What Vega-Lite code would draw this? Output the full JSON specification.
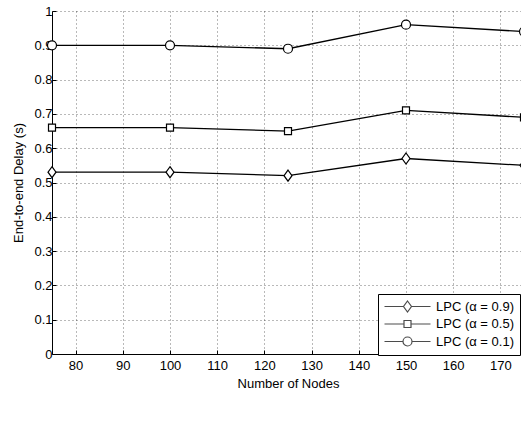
{
  "$schema": "https://vega.github.io/schema/vega-lite/v6.json",
  "width": 472,
  "height": 343,
  "autosize": {"type": "none"},
  "padding": {"left": 52, "top": 11, "right": 0, "bottom": 69},
  "background": "white",
  "config": {
    "view": {"stroke": null},
    "font": "Liberation Sans",
    "axis": {
      "domainColor": "#000",
      "domainWidth": 1,
      "tickColor": "#000",
      "tickSize": -4,
      "labelColor": "#000",
      "labelFontSize": 13,
      "labelOverlap": false,
      "titleColor": "#000",
      "titleFontSize": 13,
      "titleFontWeight": "normal",
      "grid": true,
      "gridColor": "#000",
      "gridOpacity": 0.55,
      "gridDash": [1, 3],
      "gridWidth": 1
    },
    "legend": {
      "labelFontSize": 13,
      "labelColor": "#000"
    }
  },
  "data": {
    "values": [
      {"nodes": 75, "delay": 0.53, "series": "LPC (α = 0.9)"},
      {"nodes": 100, "delay": 0.53, "series": "LPC (α = 0.9)"},
      {"nodes": 125, "delay": 0.52, "series": "LPC (α = 0.9)"},
      {"nodes": 150, "delay": 0.57, "series": "LPC (α = 0.9)"},
      {"nodes": 175, "delay": 0.55, "series": "LPC (α = 0.9)"},
      {"nodes": 75, "delay": 0.66, "series": "LPC (α = 0.5)"},
      {"nodes": 100, "delay": 0.66, "series": "LPC (α = 0.5)"},
      {"nodes": 125, "delay": 0.65, "series": "LPC (α = 0.5)"},
      {"nodes": 150, "delay": 0.71, "series": "LPC (α = 0.5)"},
      {"nodes": 175, "delay": 0.69, "series": "LPC (α = 0.5)"},
      {"nodes": 75, "delay": 0.90, "series": "LPC (α = 0.1)"},
      {"nodes": 100, "delay": 0.90, "series": "LPC (α = 0.1)"},
      {"nodes": 125, "delay": 0.89, "series": "LPC (α = 0.1)"},
      {"nodes": 150, "delay": 0.96, "series": "LPC (α = 0.1)"},
      {"nodes": 175, "delay": 0.94, "series": "LPC (α = 0.1)"}
    ]
  },
  "encoding": {
    "x": {
      "field": "nodes", "type": "quantitative",
      "scale": {"domain": [75, 175], "nice": false, "zero": false},
      "axis": {"values": [80, 90, 100, 110, 120, 130, 140, 150, 160, 170], "title": "Number of Nodes", "labelPadding": 9, "titlePadding": 5, "labelOverlap": false}
    },
    "y": {
      "field": "delay", "type": "quantitative",
      "scale": {"domain": [0, 1], "nice": false},
      "axis": {"values": [0, 0.1, 0.2, 0.3, 0.4, 0.5, 0.6, 0.7, 0.8, 0.9, 1], "title": "End-to-end Delay (s)", "labelPadding": 4, "titlePadding": 8, "labelOverlap": false, "labelExpr": "datum.value == 0 ? '0' : datum.value == 1 ? '1' : format(datum.value, '.1f')"}
    }
  },
  "layer": [
    {
      "mark": {"type": "line", "color": "#000", "strokeWidth": 1.3, "clip": true},
      "encoding": {
        "detail": {"field": "series"}
      }
    },
    {
      "mark": {"type": "point", "filled": false, "fill": "white", "fillOpacity": 1, "stroke": "#000", "strokeWidth": 1.2, "opacity": 1, "size": 4},
      "encoding": {
        "shape": {
          "field": "series", "type": "nominal",
          "scale": {
            "domain": ["LPC (α = 0.9)", "LPC (α = 0.5)", "LPC (α = 0.1)"],
            "range": [
              "M0,-5.5L4,0L0,5.5L-4,0Z",
              "M-3.5,-3.5H3.5V3.5H-3.5Z",
              "M4.5,0A4.5,4.5,0,1,1,-4.5,0A4.5,4.5,0,1,1,4.5,0Z"
            ]
          },
          "legend": null
        }
      }
    },
    {
      "transform": [{"filter": "false"}],
      "mark": {"type": "point", "filled": false, "stroke": "#000", "strokeWidth": 1.2},
      "encoding": {
        "shape": {
          "field": "series", "type": "nominal",
          "scale": {
            "domain": ["LPC (α = 0.9)", "LPC (α = 0.5)", "LPC (α = 0.1)"],
            "range": [
              "M-1.2,0H2.6M3.4,-1.1L4.2,0L3.4,1.1L2.6,0ZM4.2,0H8",
              "M-1.2,0H2.7M2.7,-0.7H4.1V0.7H2.7ZM4.1,0H8",
              "M-1.2,0H2.5M4.3,0A0.9,0.9,0,1,1,2.5,0A0.9,0.9,0,1,1,4.3,0ZM4.3,0H8"
            ]
          },
          "legend": {
            "title": null,
            "orient": "none",
            "legendX": 326,
            "legendY": 283,
            "strokeColor": "#000",
            "fillColor": "white",
            "padding": 6,
            "rowPadding": 2.5,
            "symbolStrokeWidth": 1.2,
            "symbolStrokeColor": "#000",
            "symbolFillColor": "white",
            "labelOffset": 39
          }
        }
      }
    }
  ],
  "resolve": {"scale": {"shape": "independent"}}
}
